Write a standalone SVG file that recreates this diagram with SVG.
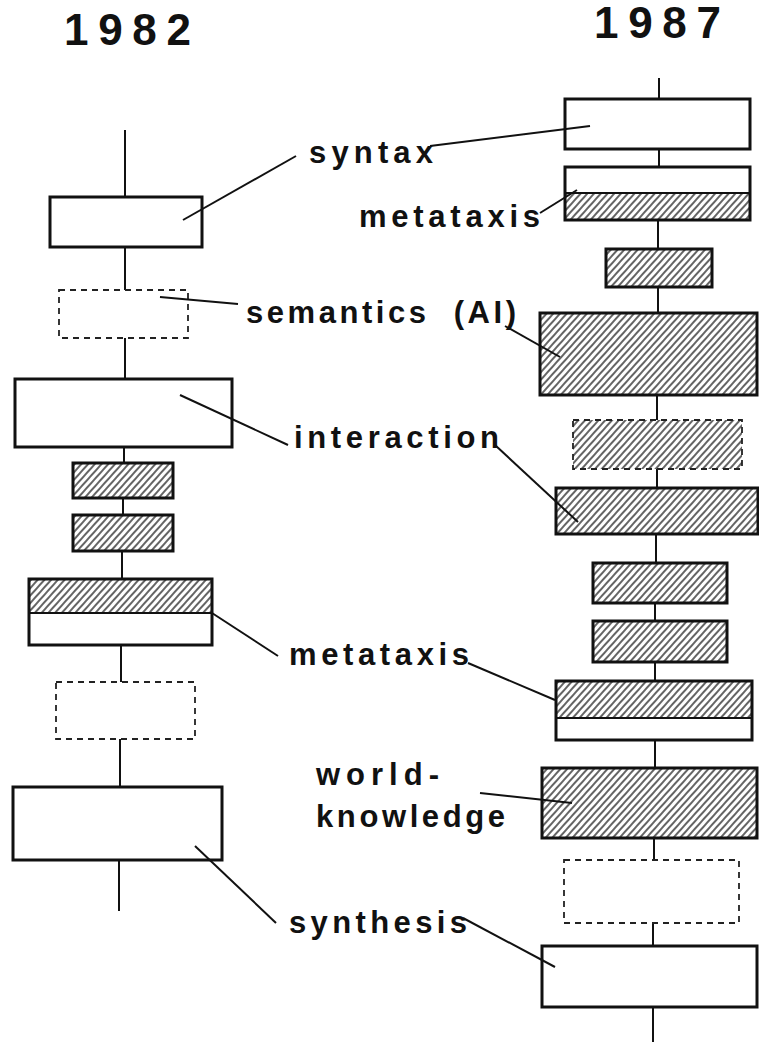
<svg xmlns="http://www.w3.org/2000/svg" width="759" height="1042" viewBox="0 0 759 1042">
<defs>
<pattern id="hatch" patternUnits="userSpaceOnUse" width="5" height="5" patternTransform="rotate(42)">
<rect width="5" height="5" fill="#fff"/>
<line x1="1" y1="0" x2="1" y2="5" stroke="#111" stroke-width="1.3"/>
</pattern>
</defs>
<style>
.box{fill:#fff;stroke:#111;stroke-width:3}
.hbox{fill:url(#hatch);stroke:#111;stroke-width:3}
.dbox{fill:#fff;stroke:#222;stroke-width:1.8;stroke-dasharray:6 5}
.dhbox{fill:url(#hatch);stroke:#222;stroke-width:1.8;stroke-dasharray:6 5}
.sp{stroke:#111;stroke-width:2;fill:none}
.ld{stroke:#111;stroke-width:2;fill:none}
.lbl{font-family:"Liberation Sans",Arial,sans-serif;font-weight:bold;font-size:31px;fill:#111}
.yr{font-family:"Liberation Sans",Arial,sans-serif;font-weight:bold;font-size:44px;fill:#111}
</style>
<rect width="759" height="1042" fill="#fff"/>
<text class="yr" x="64" y="45" textLength="127" lengthAdjust="spacing">1982</text>
<text class="yr" x="594" y="38" textLength="127" lengthAdjust="spacing">1987</text>
<g id="connectors">
<line class="sp" x1="125" y1="130" x2="125" y2="197"/>
<line class="sp" x1="125" y1="247" x2="125" y2="290"/>
<line class="sp" x1="125" y1="338" x2="125" y2="379"/>
<line class="sp" x1="124" y1="447" x2="124" y2="463"/>
<line class="sp" x1="123" y1="498" x2="123" y2="515"/>
<line class="sp" x1="122" y1="551" x2="122" y2="579"/>
<line class="sp" x1="121" y1="645" x2="121" y2="682"/>
<line class="sp" x1="120" y1="739" x2="120" y2="787"/>
<line class="sp" x1="119" y1="860" x2="119" y2="911"/>
<line class="sp" x1="659" y1="78" x2="659" y2="99"/>
<line class="sp" x1="659" y1="149" x2="659" y2="167"/>
<line class="sp" x1="658" y1="220" x2="658" y2="249"/>
<line class="sp" x1="658" y1="287" x2="658" y2="313"/>
<line class="sp" x1="657" y1="395" x2="657" y2="420"/>
<line class="sp" x1="657" y1="469" x2="657" y2="488"/>
<line class="sp" x1="656" y1="534" x2="656" y2="563"/>
<line class="sp" x1="655" y1="603" x2="655" y2="621"/>
<line class="sp" x1="655" y1="662" x2="655" y2="681"/>
<line class="sp" x1="655" y1="740" x2="655" y2="768"/>
<line class="sp" x1="654" y1="838" x2="654" y2="860"/>
<line class="sp" x1="653" y1="923" x2="653" y2="946"/>
<line class="sp" x1="653" y1="1007" x2="653" y2="1042"/>
</g>
<g id="left-1982">
<g id="L1"><rect class="box" x="50" y="197" width="152" height="50"/></g>
<g id="L2"><rect class="dbox" x="59" y="290" width="129" height="48"/></g>
<g id="L3"><rect class="box" x="15" y="379" width="217" height="68"/></g>
<g id="L4"><rect class="hbox" x="73" y="463" width="100" height="35"/></g>
<g id="L5"><rect class="hbox" x="73" y="515" width="100" height="36"/></g>
<g id="L6"><rect x="29" y="579" width="183" height="66" fill="#fff"/><rect x="29" y="579" width="183" height="34" fill="url(#hatch)"/><line x1="29" y1="613" x2="212" y2="613" stroke="#111" stroke-width="2"/><rect class="box" x="29" y="579" width="183" height="66" style="fill:none"/></g>
<g id="L7"><rect class="dbox" x="56" y="682" width="139" height="57"/></g>
<g id="L8"><rect class="box" x="13" y="787" width="209" height="73"/></g>
</g>
<g id="right-1987">
<g id="R1"><rect class="box" x="565" y="99" width="185" height="50"/></g>
<g id="R2"><rect x="565" y="167" width="185" height="53" fill="#fff"/><rect x="565" y="193" width="185" height="27" fill="url(#hatch)"/><line x1="565" y1="193" x2="750" y2="193" stroke="#111" stroke-width="2"/><rect class="box" x="565" y="167" width="185" height="53" style="fill:none"/></g>
<g id="R3"><rect class="hbox" x="606" y="249" width="106" height="38"/></g>
<g id="R4"><rect class="hbox" x="540" y="313" width="217" height="82"/></g>
<g id="R5"><rect class="dhbox" x="573" y="420" width="169" height="49"/></g>
<g id="R6"><rect class="hbox" x="556" y="488" width="202" height="46"/></g>
<g id="R7"><rect class="hbox" x="593" y="563" width="134" height="40"/></g>
<g id="R8"><rect class="hbox" x="593" y="621" width="134" height="41"/></g>
<g id="R9"><rect x="556" y="681" width="196" height="59" fill="#fff"/><rect x="556" y="681" width="196" height="37" fill="url(#hatch)"/><line x1="556" y1="718" x2="752" y2="718" stroke="#111" stroke-width="2"/><rect class="box" x="556" y="681" width="196" height="59" style="fill:none"/></g>
<g id="R10"><rect class="hbox" x="542" y="768" width="215" height="70"/></g>
<g id="R11"><rect class="dbox" x="564" y="860" width="175" height="63"/></g>
<g id="R12"><rect class="box" x="542" y="946" width="215" height="61"/></g>
</g>
<g id="leaders">
<line class="ld" x1="183" y1="220" x2="296" y2="156"/>
<line class="ld" x1="430" y1="146" x2="590" y2="126"/>
<line class="ld" x1="540" y1="213" x2="577" y2="190"/>
<line class="ld" x1="160" y1="297" x2="238" y2="304"/>
<line class="ld" x1="505" y1="326" x2="560" y2="357"/>
<line class="ld" x1="180" y1="395" x2="288" y2="445"/>
<line class="ld" x1="495" y1="445" x2="578" y2="522"/>
<line class="ld" x1="212" y1="613" x2="278" y2="656"/>
<line class="ld" x1="468" y1="663" x2="555" y2="700"/>
<line class="ld" x1="480" y1="793" x2="572" y2="803"/>
<line class="ld" x1="195" y1="846" x2="276" y2="923"/>
<line class="ld" x1="463" y1="918" x2="555" y2="967"/>
</g>
<g id="labels">
<g id="lbl-syntax"><text class="lbl" x="309" y="163" textLength="124" lengthAdjust="spacing">syntax</text></g>
<g id="lbl-metataxis-top"><text class="lbl" x="359" y="227" textLength="181" lengthAdjust="spacing">metataxis</text></g>
<g id="lbl-semantics"><text class="lbl" x="246" y="323" textLength="270" lengthAdjust="spacing" xml:space="preserve">semantics  (AI)</text></g>
<g id="lbl-interaction"><text class="lbl" x="294" y="448" textLength="205" lengthAdjust="spacing">interaction</text></g>
<g id="lbl-metataxis"><text class="lbl" x="289" y="665" textLength="180" lengthAdjust="spacing">metataxis</text></g>
<g id="lbl-world"><text class="lbl" x="316" y="785" textLength="123" lengthAdjust="spacing">world-</text><text class="lbl" x="316" y="827" textLength="189" lengthAdjust="spacing">knowledge</text></g>
<g id="lbl-synthesis"><text class="lbl" x="289" y="933" textLength="178" lengthAdjust="spacing">synthesis</text></g>
</g>
</svg>
